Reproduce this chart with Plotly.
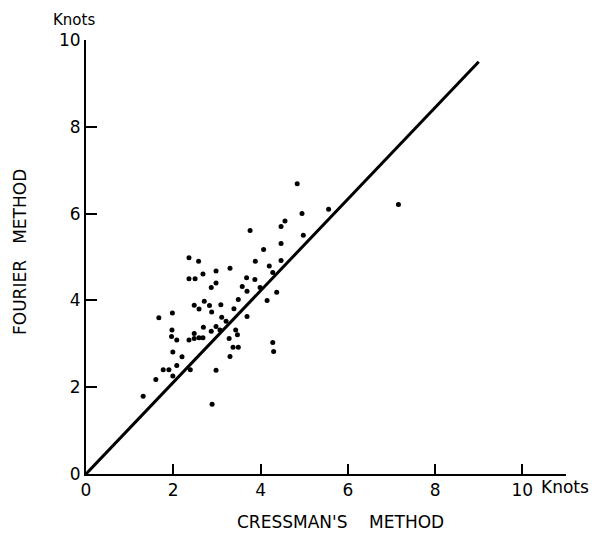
import plotly.graph_objects as go

# Scatter data (knots): Cressman's method (x) vs Fourier method (y)
cressman = [3.76, 4.07, 2.36, 2.58, 3.88, 4.20, 2.98, 3.30, 2.68, 2.36,
            2.50, 3.68, 3.87, 4.28, 2.98, 2.87, 3.58, 3.69, 3.99, 4.37,
            3.49, 4.15, 2.71, 2.48, 2.59, 2.83, 3.09, 3.39, 2.88, 1.98,
            1.67, 3.11, 3.69, 3.21, 2.69, 2.98, 3.07, 1.97, 2.87, 2.48,
            3.43, 3.47, 1.96, 2.08, 2.36, 2.48, 2.59, 2.68, 3.28, 4.28,
            1.99, 2.20, 3.37, 3.49, 3.30, 4.30, 1.77, 1.90, 2.08, 1.99,
            2.39, 1.60, 2.98, 1.31, 2.89, 4.84, 7.16, 5.56, 4.95, 4.56,
            4.47, 4.98, 4.47, 4.47]
fourier = [5.61, 5.17, 4.98, 4.90, 4.90, 4.79, 4.68, 4.74, 4.61, 4.50,
           4.50, 4.52, 4.48, 4.64, 4.40, 4.30, 4.32, 4.21, 4.30, 4.19,
           4.02, 4.00, 3.98, 3.89, 3.80, 3.88, 3.90, 3.81, 3.73, 3.71,
           3.60, 3.61, 3.63, 3.52, 3.38, 3.40, 3.32, 3.32, 3.29, 3.24,
           3.32, 3.21, 3.17, 3.09, 3.09, 3.12, 3.14, 3.14, 3.12, 3.03,
           2.81, 2.70, 2.92, 2.92, 2.71, 2.82, 2.40, 2.40, 2.50, 2.26,
           2.40, 2.18, 2.39, 1.79, 1.61, 6.69, 6.21, 6.10, 6.00, 5.83,
           5.70, 5.50, 5.31, 4.92]

# Fitted line endpoints
line_x = [0, 9.0]
line_y = [0, 9.5]

tick_vals = [0, 2, 4, 6, 8, 10]
tick_text = ["0", "2", "4", "6", "8", "10"]

FONT = "DejaVu Sans"
PW, PH = 480, 434  # plot area size in px

fig = go.Figure()
fig.add_trace(go.Scatter(x=line_x, y=line_y, mode="lines",
                         line=dict(color="black", width=3), showlegend=False,
                         hoverinfo="skip"))
fig.add_trace(go.Scatter(x=cressman, y=fourier, mode="markers",
                         marker=dict(color="black", size=5), showlegend=False))

fig.update_layout(
    width=590, height=528,
    margin=dict(l=78, r=32, t=32, b=62),
    plot_bgcolor="white", paper_bgcolor="white",
    font=dict(family=FONT, size=16, color="black"),
    xaxis=dict(range=[0, 11], tickvals=tick_vals, ticktext=tick_text,
               showgrid=False, zeroline=False, showline=True, linecolor="black",
               linewidth=2, ticks="inside", ticklen=10, tickwidth=2,
               tickcolor="black", tickfont=dict(size=17, family=FONT)),
    yaxis=dict(range=[0, 10], tickvals=tick_vals, ticktext=tick_text,
               showgrid=False, zeroline=False, showline=True, linecolor="black",
               linewidth=2, ticks="inside", ticklen=11, tickwidth=2,
               tickcolor="black", tickfont=dict(size=17, family=FONT)),
)

# "Knots" after the x tick label 10
fig.add_annotation(x=(539 - 86) / PW, y=-13 / PH, xref="paper", yref="paper",
                   text="Knots", showarrow=False, xanchor="left", yanchor="middle",
                   font=dict(size=17, family=FONT))
# "Knots" above the y axis
fig.add_annotation(x=(74 - 86) / PW, y=(474 - 20) / PH, xref="paper", yref="paper",
                   text="Knots", showarrow=False, xanchor="center", yanchor="middle",
                   font=dict(size=15, family=FONT))
# x axis title
fig.add_annotation(x=(340 - 86) / PW, y=-(522 - 474) / PH, xref="paper", yref="paper",
                   text="CRESSMAN'S&nbsp;&nbsp;&nbsp; METHOD", showarrow=False,
                   xanchor="center", yanchor="middle",
                   font=dict(size=17, family=FONT))
# y axis title
fig.add_annotation(xref="paper", yref="paper", x=-(86 - 20) / PW,
                   y=(474 - 252) / PH, text="FOURIER&nbsp;&nbsp; METHOD",
                   textangle=-90, showarrow=False, xanchor="center", yanchor="middle",
                   font=dict(size=17, family=FONT))

fig.write_html("out.html")
